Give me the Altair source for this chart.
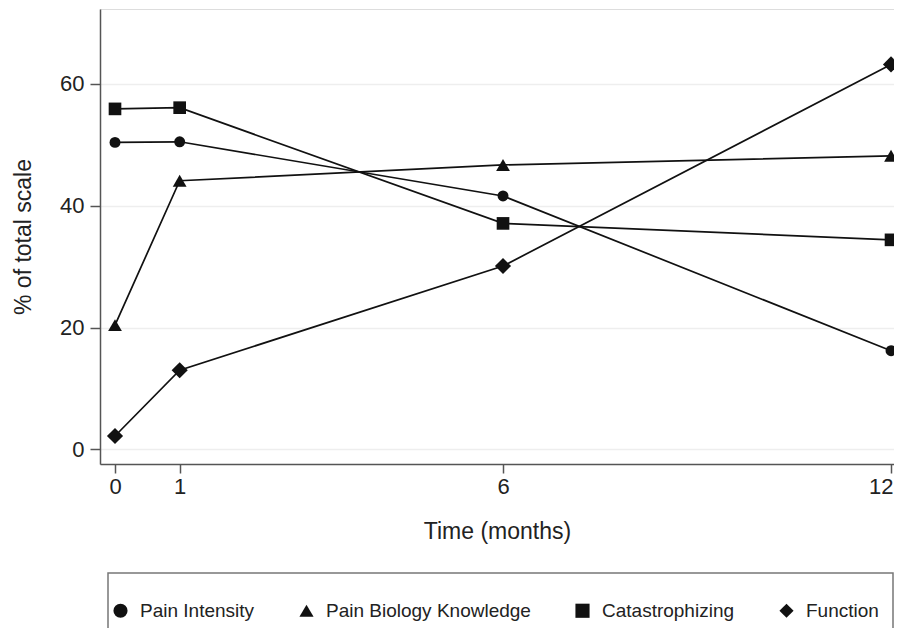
import altair as alt
import pandas as pd

months = [0, 1, 6, 12]
series_names = ["Pain Intensity", "Pain Biology Knowledge", "Catastrophizing", "Function"]
pain_intensity = [50.4, 50.5, 41.6, 16.2]
pain_biology = [20.4, 44.1, 46.7, 48.2]
catastrophizing = [55.9, 56.1, 37.1, 34.4]
function = [2.2, 13.0, 30.1, 63.2]
shapes = ["circle", "triangle-up", "square", "diamond"]
sizes = [120, 190, 160, 260]

rows = []
for name, vals, sz in zip(series_names, [pain_intensity, pain_biology, catastrophizing, function], sizes):
    for m, v in zip(months, vals):
        rows.append({"month": m, "value": v, "series": name, "sz": sz})
df = pd.DataFrame(rows)

FONT = "Liberation Sans"

x = alt.X("month:Q", scale=alt.Scale(domain=[-0.232, 12.046], nice=False, zero=False),
          axis=alt.Axis(values=months, title="Time (months)", grid=False, tickSize=9,
                        labelPadding=3, titlePadding=23, labelFontSize=22, titleFontSize=23,
                        labelFont=FONT, titleFont=FONT, titleFontWeight="normal",
                        labelColor="#222222", titleColor="#222222",
                        domainColor="#555555", tickColor="#555555",
                        domainWidth=1.5, tickWidth=1.5, labelFlush=5, labelFlushOffset=2))
y = alt.Y("value:Q", scale=alt.Scale(domain=[-2.4, 72.3], nice=False, zero=False),
          axis=alt.Axis(values=[0, 20, 40, 60], title="% of total scale", grid=True,
                        gridColor="#eeeeee", gridWidth=1.5, tickSize=10, labelPadding=6,
                        titlePadding=24, labelFontSize=22, titleFontSize=23,
                        labelFont=FONT, titleFont=FONT, titleFontWeight="normal",
                        labelColor="#222222", titleColor="#222222",
                        domainColor="#555555", tickColor="#555555",
                        domainWidth=1.5, tickWidth=1.5, labelFlush=False))

lines = alt.Chart(df).mark_line(color="#111111", strokeWidth=1.7).encode(
    x=x, y=y, detail="series:N", order="month:Q"
)

legend = alt.Legend(title=None, orient="none", legendX=11, legendY=592,
                    direction="horizontal", labelFontSize=19, labelFont=FONT,
                    labelColor="#222222", labelOffset=10, columnPadding=42,
                    labelLimit=400, symbolSize=200,
                    symbolFillColor="#111111", symbolStrokeColor="#111111",
                    symbolStrokeWidth=0, padding=0)

points = alt.Chart(df).mark_point(filled=True, color="#111111", opacity=1).encode(
    x=x, y=y,
    shape=alt.Shape("series:N", scale=alt.Scale(domain=series_names, range=shapes), legend=legend),
    size=alt.Size("sz:Q", scale=None),
)

box = alt.Chart(pd.DataFrame({"a": [0]})).mark_rect(fill=None, stroke="#777777", strokeWidth=1.5).encode(
    x=alt.value(8), x2=alt.value(793), y=alt.value(564), y2=alt.value(720)
)

chart = alt.layer(lines, points, box).properties(
    width=794, height=455,
    autosize=alt.AutoSizeParams(type="none"),
    padding={"left": 92, "top": 1, "right": 0, "bottom": 164},
).configure_view(stroke=None).configure(font=FONT)

chart.save("out.html", embed_options={"renderer": "svg", "actions": False})
